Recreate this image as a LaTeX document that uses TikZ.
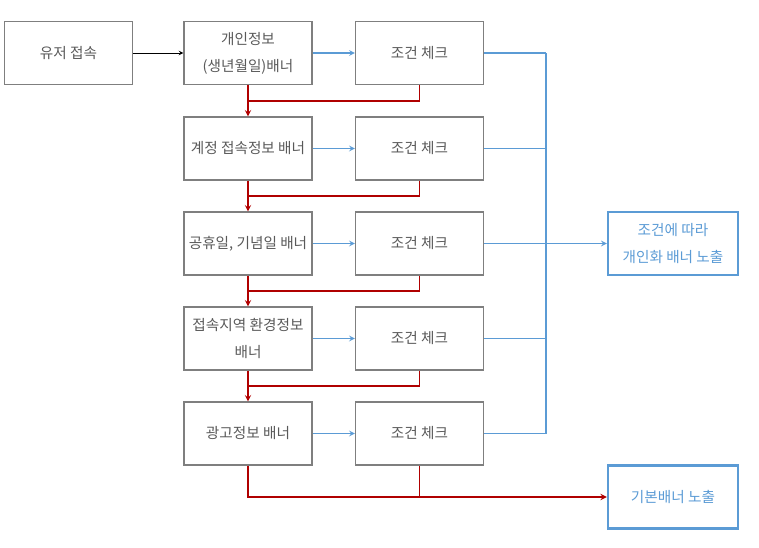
\documentclass[tikz,border=0pt]{standalone}
\usepackage{fontspec}
\newfontfamily\krfont{Noto Sans CJK KR}
\usepackage{xcolor}
\usetikzlibrary{calc, positioning}

\definecolor{boxgray}{HTML}{7F7F7F}
\definecolor{txtgray}{HTML}{595959}
\definecolor{flowblue}{HTML}{5B9BD5}
\definecolor{flowred}{HTML}{B00000}

\tikzset{
  stepbox/.style={draw=boxgray, line width=0.9pt, minimum width=3.84cm, minimum height=1.89cm,
    align=center, text=txtgray, font=\krfont\fontsize{12.5}{23}\selectfont},
  resultbox/.style={stepbox, draw=flowblue, line width=2pt, minimum width=3.9cm, text=flowblue},
  blueline/.style={draw=flowblue, line width=1.2pt},
  redline/.style={draw=flowred, line width=1.4pt}
}

\begin{document}
\begin{tikzpicture}[>=stealth, x=0.03cm, y=-0.03cm]
            \useasboundingbox (0,0) rectangle (759,547);

            % 배너 단계 박스
            \node[stepbox] (user) at (68.5,53) {유저 접속};
            \node[stepbox] (b1) at (248,53) {개인정보\\(생년월일)배너};
            \node[stepbox] (b2) at (248,148.5) {계정 접속정보 배너};
            \node[stepbox] (b3) at (248,243.5) {공휴일, 기념일 배너};
            \node[stepbox] (b4) at (248,338.5) {접속지역 환경정보\\배너};
            \node[stepbox] (b5) at (248,433.5) {광고정보 배너};

            % 조건 체크 박스
            \foreach \i/\y in {1/53, 2/148.5, 3/243.5, 4/338.5, 5/433.5}
                \node[stepbox] (c\i) at (419.5,\y) {조건 체크};

            % 결과 박스
            \node[resultbox] (personal) at (673,243.5) {조건에 따라\\개인화 배너 노출};
            \node[resultbox] (default) at (673,497) {기본배너 노출};
            \coordinate (bus) at (546,0);

            % 유저 접속 -> 첫 배너
            \draw[->, thick] (user) -- (b1);

            % 조건 체크로 가는 선, 오른쪽 모음선
            \foreach \i in {1,...,5} {
                \draw[blueline, ->] (b\i) -- (c\i);
                \draw[blueline] (c\i.east) -- (c\i.east -| bus);
            }
            \draw[blueline] (c1.east -| bus) -- (c5.east -| bus);
            \draw[blueline, ->] (personal.west -| bus) -- (personal.west);

            % 조건 불충족 시 다음 배너로
            \foreach \i [evaluate=\i as \j using int(\i+1)] in {1,...,4} {
                \draw[redline, ->] (b\i.south) -- (b\j.north);
                \draw[redline] (c\i.south) |- ($(b\i.south)!0.5!(b\j.north)$);
            }
            \draw[redline, ->] (b5.south) |- (default.west);
            \draw[redline] (c5.south) -- (c5.south |- default.west);
        \end{tikzpicture}
\end{document}
